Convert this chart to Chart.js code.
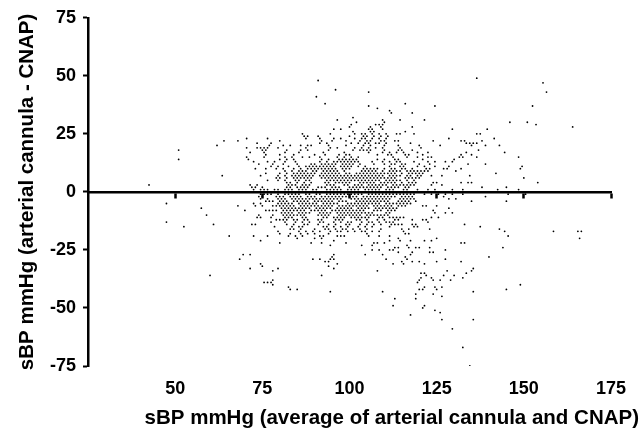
<!DOCTYPE html>
<html>
<head>
<meta charset="utf-8">
<title>sBP Bland-Altman</title>
<script src="https://cdn.jsdelivr.net/npm/chart.js@4"></script>
<style>
    body { margin: 0; background: #fff; }
    canvas { display: block; }
</style>
</head>
<body>
<canvas id="sbpChart" width="641" height="431"></canvas>
<script>
const xTicks = [50, 75, 100, 125, 150, 175];
const yTicks = [-75, -50, -25, 0, 25, 50, 75];
const xTitle = 'sBP mmHg (average of arterial cannula and CNAP)';
const yTitle = 'sBP mmHg (arterial cannula - CNAP)';

// difference (mmHg), one entry per row of dots in the picture
const diffLevels = [49,48,47,44,43,41,38,37,36,35,34,32,31,30,29,28,27,26,25,24,23,22,21,20,19,18,17,16,15,14,13,12,11,10,9,8,7,6,5,4,3,2,1,
    -1,-2,-3,-4,-5,-6,-7,-8,-9,-10,-11,-12,-13,-14,-15,-16,-17,-18,-19,-20,-21,-22,-23,-24,-25,-26,-27,-28,-29,-30,-31,-32,-33,-34,-35,-36,-37,-38,-39,-40,-41,-42,-43,-44,-45,-46,-49,-50,-51,-52,-53,-55,-59,-67,-75];

// average (mmHg) of the dots on each row above
const avgByDiff = [
    [136.5],
    [91],
    [155.5],
    [96],
    [105.5,156.5],
    [90.5],
    [93,116],
    [105.5,124.5,152.5],
    [108],
    [111.5],
    [112,118],
    [101],
    [96.5,109.5,114.5,121.5],
    [102,110,146,151],
    [100.5,107.5,108.5,109.5,153.5],
    [100,106,109,118,164],
    [95.5,97.5,105.5,106.5,109.5,129.5,139.5],
    [101,106,107,116],
    [86.5,94.5,101.5,103.5,104.5,106.5,108.5,110.5,113.5,114.5,118.5,136.5,137.5],
    [87,88,91,100,104,105,107,109,111],
    [70.5,76.5,87.5,91.5,95.5,97.5,101.5,103.5,104.5,106.5,108.5,110.5,128.5,141.5],
    [64,68,80,92,95,99,103,105,106,109,110,113,114,124,132,133,138],
    [73.5,77.5,91.5,93.5,100.5,102.5,104.5,105.5,107.5,108.5,110.5,117.5,133.5,134.5,135.5,136.5],
    [62,77,81,83,86,88,89,94,99,104,106,110,114,120,126,135,139,143],
    [70.5,73.5,74.5,75.5,76.5,79.5,87.5,94.5,96.5,101.5,103.5,105.5,107.5,109.5,114.5,120.5],
    [51,75,76,82,86,88,94,101,103,104,105,106,110,114,115,118,137],
    [71.5,75.5,81.5,85.5,92.5,98.5,105.5,109.5,111.5,113.5,115.5,119.5,122.5,133.5,144.5],
    [76,80,84,90,93,97,99,100,108,111,112,116,117,121,132,135],
    [70.5,75.5,81.5,83.5,86.5,88.5,91.5,96.5,98.5,100.5,102.5,112.5,116.5,119.5,122.5,123.5,131.5,132.5,136.5,148.5],
    [51,71,80,82,84,92,94,97,98,99,100,101,102,108,110,113,114,121,130],
    [72.5,76.5,78.5,81.5,84.5,91.5,93.5,95.5,96.5,97.5,98.5,99.5,100.5,101.5,102.5,106.5,109.5,111.5,113.5,114.5,118.5,122.5,124.5,127.5,129.5],
    [74,78,81,85,89,90,92,93,94,95,96,98,99,100,101,103,107,110,112,113,115,116,120,123,134,139],
    [77.5,79.5,82.5,85.5,87.5,88.5,89.5,90.5,91.5,92.5,93.5,94.5,95.5,97.5,98.5,99.5,100.5,102.5,104.5,111.5,114.5,115.5,119.5,121.5,124.5,128.5,149.5],
    [73,76,79,81,84,86,88,89,90,91,92,93,94,95,96,98,99,100,104,105,106,107,108,110,112,113,115,116,118,122,123,127,128,132,149],
    [81.5,83.5,85.5,86.5,87.5,89.5,90.5,92.5,93.5,94.5,95.5,96.5,98.5,103.5,104.5,105.5,106.5,107.5,109.5,111.5,112.5,113.5,114.5,116.5,117.5,118.5,119.5,120.5,121.5,122.5,130.5],
    [76,80,82,84,85,86,87,88,89,90,92,93,94,95,96,97,99,100,102,103,104,105,106,107,108,109,110,111,112,113,115,117,118,119,120,121,142],
    [63.5,74.5,79.5,81.5,83.5,84.5,85.5,86.5,87.5,88.5,89.5,91.5,92.5,93.5,94.5,95.5,96.5,97.5,98.5,99.5,100.5,101.5,102.5,103.5,104.5,105.5,106.5,107.5,108.5,109.5,111.5,112.5,113.5,114.5,116.5,117.5,119.5,120.5,123.5,126.5,134.5],
    [79,80,82,84,85,86,87,88,89,92,93,94,95,96,97,98,99,100,101,102,103,104,105,106,107,108,109,110,111,112,113,116,117,118,119,120,150],
    [76.5,79.5,81.5,84.5,85.5,87.5,88.5,93.5,94.5,95.5,96.5,97.5,98.5,99.5,100.5,101.5,102.5,103.5,104.5,105.5,106.5,107.5,108.5,110.5,111.5,112.5,113.5,114.5,116.5,118.5],
    [82,83,85,87,89,93,94,96,97,98,99,100,103,104,105,106,107,109,110,111,112,113,115,117,118,119,124,125,132,134,135,154],
    [42.5,71.5,73.5,82.5,83.5,84.5,86.5,87.5,88.5,93.5,94.5,95.5,98.5,99.5,101.5,102.5,103.5,105.5,106.5,107.5,108.5,109.5,110.5,112.5,113.5,114.5,115.5,116.5,117.5,118.5,123.5,126.5],
    [72,73,75,82,83,85,86,87,88,91,92,93,95,96,97,100,101,102,103,104,105,106,107,108,109,111,112,113,114,116,117,138,145],
    [72.5,74.5,75.5,76.5,78.5,79.5,81.5,82.5,83.5,85.5,86.5,87.5,89.5,90.5,93.5,94.5,95.5,96.5,97.5,99.5,100.5,101.5,102.5,104.5,105.5,106.5,107.5,108.5,110.5,111.5,112.5,115.5,116.5,119.5,122.5,124.5,129.5,132.5,142.5,148.5],
    [74.5,75.5,76.5,77.5,79.5,81.5,82.5,83.5,84.5,85.5,87.5,88.5,90.5,91.5,93.5,94.5,95.5,96.5,97.5,98.5,99.5,100.5,101.5,102.5,103.5,105.5,106.5,107.5,108.5,109.5,110.5,111.5,112.5,113.5,114.5,115.5,116.5,117.5,118.5,121.5,123.5,125.5,127.5,129.5,132.5,145.5,150.5],
    [74,75,79,80,81,83,84,85,86,88,89,90,92,93,94,95,96,97,98,99,100,101,102,104,105,106,107,108,109,110,111,112,113,115,116,117,118,127,139],
    [74.5,76.5,79.5,80.5,81.5,83.5,84.5,85.5,86.5,87.5,88.5,89.5,90.5,91.5,92.5,93.5,94.5,95.5,96.5,97.5,100.5,101.5,102.5,103.5,104.5,105.5,106.5,107.5,108.5,109.5,110.5,111.5,114.5,115.5,116.5,117.5,118.5,128.5,130.5],
    [76,77,78,80,81,82,84,85,86,87,88,90,91,92,93,94,95,97,98,99,102,103,104,105,106,107,108,109,110,111,114,115,116,117,119,135,145],
    [47.5,72.5,74.5,79.5,80.5,81.5,82.5,83.5,85.5,86.5,87.5,88.5,89.5,90.5,92.5,93.5,94.5,95.5,96.5,99.5,100.5,101.5,102.5,103.5,104.5,105.5,106.5,107.5,108.5,110.5,111.5,112.5,113.5,114.5,115.5,116.5,117.5],
    [68,73,75,78,79,80,81,82,83,84,86,87,88,89,90,91,92,93,94,95,97,98,99,100,101,102,103,104,105,107,108,109,110,111,112,114,115,116,121,122,125],
    [57.5,80.5,81.5,82.5,83.5,84.5,85.5,86.5,87.5,88.5,90.5,91.5,92.5,93.5,94.5,96.5,97.5,98.5,99.5,100.5,102.5,103.5,104.5,105.5,107.5,108.5,109.5,110.5,111.5,112.5,113.5,128.5],
    [70,76,77,78,79,81,82,83,84,85,86,87,89,90,91,92,93,95,96,97,98,99,100,101,102,103,104,107,108,109,111,112,113,124],
    [80.5,81.5,82.5,83.5,85.5,86.5,87.5,88.5,91.5,92.5,93.5,94.5,96.5,97.5,98.5,99.5,100.5,101.5,102.5,103.5,104.5,105.5,106.5,110.5,111.5,124.5,127.5,129.5],
    [59,74,78,81,82,83,84,85,86,87,91,92,93,94,97,98,99,100,101,102,103,105,106,107,108,109,110,111],
    [73.5,74.5,77.5,81.5,82.5,83.5,86.5,87.5,92.5,93.5,95.5,96.5,97.5,98.5,100.5,101.5,102.5,103.5,104.5,105.5,108.5,109.5,111.5,112.5,113.5,114.5,115.5,123.5,125.5],
    [79,80,81,82,84,85,87,88,91,92,96,97,98,102,103,105,108,110,113,114,118,121,122],
    [47.5,77.5,81.5,84.5,86.5,88.5,91.5,92.5,95.5,97.5,99.5,100.5,103.5,105.5,106.5,108.5,110.5,111.5,112.5,122.5],
    [61,72,73,82,84,87,88,91,94,96,99,100,103,105,107,109,112,113,114,115,118,119,133],
    [52.5,78.5,83.5,85.5,86.5,92.5,93.5,95.5,97.5,99.5,102.5,104.5,106.5,111.5,118.5,119.5,137.5],
    [83,84,86,90,93,94,96,98,99,101,103,105,109,115,117,123,143],
    [79.5,85.5,87.5,89.5,91.5,94.5,96.5,97.5,99.5,101.5,103.5,104.5,106.5,108.5,115.5,144.5,158.5,165.5,166.5],
    [80,83,86,88,90,94,105,116,117],
    [65.5,72.5,76.5,82.5,84.5,86.5,91.5,92.5,96.5,97.5,98.5,105.5,108.5,111.5,145.5],
    [85,90,92,114,125,166],
    [74.5,95.5,111.5,114.5,117.5,121.5,123.5],
    [80,89,92,99,107,108,110,132,133],
    [94.5,103.5,106.5,116.5],
    [113,114,117,119,120,123,144],
    [106.5,108.5,111.5,112.5,127.5],
    [114,118,123,124],
    [69.5,71.5,95.5,104.5,109.5,117.5],
    [95,116,140],
    [68.5,89.5,91.5,94.5,95.5,110.5,116.5,127.5],
    [93,94,115,118,120,125,132],
    [74.5,96.5,112.5,115.5,121.5],
    [75,94],
    [71.5,79.5,95.5,135.5],
    [78,108,128,135],
    [120.5,121.5,133.5],
    [60,92,122,127,130],
    [120.5,123.5,132.5],
    [78,120,124,126,129],
    [75.5,76.5,77.5,119.5],
    [78,149],
    [82.5,121.5,124.5,126.5],
    [83,85,120,121,125,145],
    [94.5,109.5,135.5],
    [119,124],
    [126.5],
    [113,119],
    [112.5,121.5],
    [121],
    [124.5],
    [126],
    [117.5],
    [126.5,135.5],
    [129.5],
    [132.5],
    [134.5]
];

let points = [];
diffLevels.forEach((d, i) => {
    for (let avg of avgByDiff[i]) {
        points.push({ x: avg, y: d });
    }
});

// x title is not centred under the axis in the original, so it is placed by hand
const xTitlePlugin = {
    id: 'xTitlePlugin',
    afterDraw(chart) {
        let ctx = chart.ctx;
        ctx.save();
        ctx.font = 'bold 20.5px "Liberation Sans"';
        ctx.fillStyle = '#000';
        ctx.textAlign = 'right';
        ctx.textBaseline = 'middle';
        ctx.fillText(xTitle, 639, 418);
        ctx.restore();
    }
};

let ctx = document.getElementById('sbpChart').getContext('2d');
new Chart(ctx, {
    type: 'scatter',
    data: {
        datasets: [{
            data: points,
            pointRadius: 0.9,
            pointBackgroundColor: '#000',
            pointBorderWidth: 0
        }]
    },
    plugins: [xTitlePlugin],
    options: {
        responsive: false,
        animation: false,
        layout: { padding: { top: 17, right: 30, left: 0, bottom: 0 } },
        plugins: { legend: { display: false }, tooltip: { enabled: false } },
        scales: {
            x: {
                type: 'linear',
                min: 25,
                max: 175,
                position: 'bottom',
                afterFit: scale => { scale.height = 65; },
                afterBuildTicks: scale => { scale.ticks = xTicks.map(v => ({ value: v })); },
                grid: { display: false },
                border: { display: false },
                ticks: {
                    padding: 4,
                    color: '#000',
                    maxRotation: 0,
                    font: { family: '"Liberation Sans"', size: 18, weight: 'bold' }
                }
            },
            // the axis line with its ticks sits on zero
            zeroAxis: {
                type: 'linear',
                axis: 'x',
                min: 25,
                max: 175,
                position: { y: 0 },
                z: 1,
                afterBuildTicks: scale => { scale.ticks = xTicks.map(v => ({ value: v })); },
                grid: { drawOnChartArea: false, tickLength: 5, tickWidth: 2.5, tickColor: '#000' },
                border: { color: '#000', width: 2.5 },
                ticks: { callback: () => '' }
            },
            y: {
                type: 'linear',
                min: -75,
                max: 75,
                afterFit: scale => { scale.width = 88; },
                afterBuildTicks: scale => { scale.ticks = yTicks.map(v => ({ value: v })); },
                grid: { drawOnChartArea: false, tickLength: 5, tickWidth: 2, tickColor: '#000' },
                border: { color: '#000', width: 2.5 },
                ticks: {
                    padding: 7,
                    color: '#000',
                    font: { family: '"Liberation Sans"', size: 18, weight: 'bold' }
                },
                title: {
                    display: true,
                    text: yTitle,
                    color: '#000',
                    padding: { top: 15, bottom: 0 },
                    font: { family: '"Liberation Sans"', size: 20.5, weight: 'bold' }
                }
            }
        }
    }
});
</script>
</body>
</html>
